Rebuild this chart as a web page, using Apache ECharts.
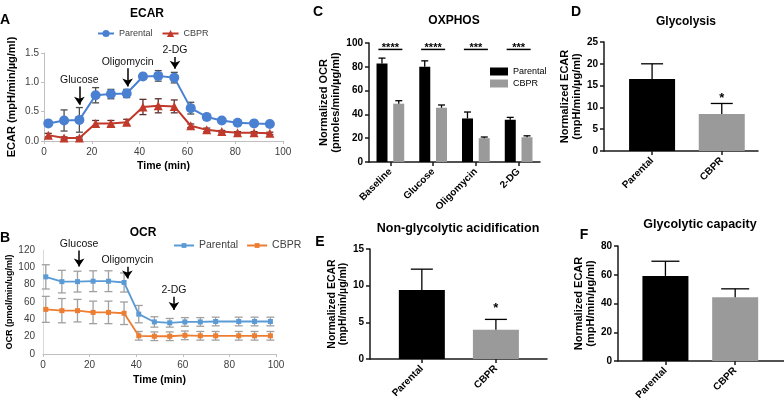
<!DOCTYPE html>
<html>
<head>
<meta charset="utf-8">
<script src="https://cdn.jsdelivr.net/npm/echarts@6/dist/echarts.min.js"></script>
<style>
html,body{margin:0;padding:0;background:#fff;}
#main{width:784px;height:405px;}
</style>
</head>
<body>
<div id="main"></div>
<script>
var FONT = '"Liberation Sans", Arial, sans-serif';

// A - ECAR time course
var timeA = [1.8, 8.4, 14.8, 21.6, 28, 34.6, 41.4, 47.8, 54.5, 61.4, 68.1, 74.4, 81, 87.9, 94.5];
var ecarPar = [0.30, 0.35, 0.36, 0.78, 0.80, 0.81, 1.10, 1.11, 1.08, 0.56, 0.41, 0.35, 0.31, 0.30, 0.29];
var ecarParErr = [0.03, 0.18, 0.21, 0.13, 0.08, 0.07, 0.05, 0.09, 0.09, 0.10, 0.05, 0.03, 0.02, 0.02, 0.02];
var ecarCb = [0.10, 0.05, 0.05, 0.30, 0.30, 0.32, 0.58, 0.60, 0.59, 0.26, 0.19, 0.16, 0.14, 0.14, 0.13];
var ecarCbErr = [0.03, 0.02, 0.02, 0.05, 0.05, 0.05, 0.13, 0.12, 0.11, 0.03, 0.03, 0.02, 0.02, 0.02, 0.02];

// B - OCR time course
var timeB = [1.2, 8.1, 14.8, 21.5, 28.1, 34.8, 41.1, 47.8, 54.4, 60.9, 67.5, 74.1, 84, 90.8, 97.6];
var ocrPar = [89, 83.5, 83.5, 84, 84, 82.5, 46, 37, 36, 37, 37, 37.5, 37.5, 37.5, 37.5];
var ocrParErr = [14, 13, 12, 12, 12, 11, 10, 6, 5, 5, 5, 5, 5, 5, 5];
var ocrCb = [51.5, 50, 50, 48, 48, 47, 21, 20.5, 20.5, 21.5, 21, 21, 21, 21, 21];
var ocrCbErr = [15, 14, 13, 13, 13, 13, 5, 5, 5, 5, 5, 5, 5, 5, 5];

// injection arrows (time, arrow from, arrow to)
var annoNames = ['Glucose', 'Oligomycin', '2-DG'];
var annoTimeA = [14.8, 35, 54.8];
var annoFromA = [0.93, 1.24, 1.43];
var annoToA = [0.62, 0.93, 1.23];
var annoTimeB = [15.5, 36.2, 56.2];
var annoFromB = [119.5, 100.7, 66];
var annoToB = [101, 87.2, 50.7];

// C - OXPHOS
var cCats = ['Baseline', 'Glucose', 'Oligomycin', '2-DG'];
var oxPar = [82.8, 80, 36.6, 35.5];
var oxParErr = [4.5, 5, 5.4, 2];
var oxCb = [49, 45.6, 20, 20.8];
var oxCbErr = [2.5, 2.3, 1, 1.2];
var oxSig = ['****', '****', '***', '***'];
var oxSigY = 94.6;

// D/E/F - two group bars
var groups = ['Parental', 'CBPR'];
var glyVals = [16.5, 8.5];
var glyErr = [3.5, 2.4];
var glySig = ['', '*'];
var nonGlyVals = [9.4, 4.0];
var nonGlyErr = [2.85, 1.4];
var nonGlySig = ['', '*'];
var capVals = [59.2, 44.4];
var capErr = [10.2, 5.8];
var capSig = ['', ''];

var barColors = ['#000000', '#9a9a9a'];

// error bar drawer
function errBars(capW, color, upOnly, offset, sig, sigGap) {
    return function (params, api) {
        var x = api.value(0), v = api.value(1), e = api.value(2);
        var top = api.coord([x, v + e]);
        var bot = api.coord([x, upOnly ? v : v - e]);
        var px = top[0] + offset;
        var st = { stroke: color, lineWidth: 1.3 };
        var kids = [
            { type: 'line', shape: { x1: px, y1: top[1], x2: px, y2: bot[1] }, style: st },
            { type: 'line', shape: { x1: px - capW / 2, y1: top[1], x2: px + capW / 2, y2: top[1] }, style: st }
        ];
        if (!upOnly) {
            kids.push({ type: 'line', shape: { x1: px - capW / 2, y1: bot[1], x2: px + capW / 2, y2: bot[1] }, style: st });
        }
        if (sig && sig[params.dataIndex]) {
            kids.push({ type: 'text', x: px, y: top[1] - sigGap, style: {
                text: sig[params.dataIndex], fontSize: 13, fontWeight: 'bold', fontFamily: FONT,
                fill: '#000', align: 'center', verticalAlign: 'middle' } });
        }
        return { type: 'group', children: kids };
    };
}

function pairs(xs, ys, es) {
    return xs.map(function (x, i) { return es ? [x, ys[i], es[i]] : [x, ys[i]]; });
}

function arrows(times, from, to) {
    return {
        silent: true,
        symbol: ['none', 'arrow'],
        symbolSize: 8,
        emphasis: { disabled: true },
        lineStyle: { color: '#000', width: 1.5, type: 'solid' },
        label: { show: true, position: 'start', distance: 1, formatter: '{b}', fontSize: 10.5, color: '#111', fontFamily: FONT },
        data: annoNames.map(function (n, i) {
            return [{ name: n, coord: [times[i], from[i]] }, { coord: [times[i], to[i]] }];
        })
    };
}

// excel style axes (A, B)
function xlX(grid, gap) {
    return {
        gridIndex: grid, type: 'value', min: 0, max: 100, interval: 20,
        axisLine: { lineStyle: { color: '#bfbfbf' } },
        axisTick: { show: true, length: 3, lineStyle: { color: '#bfbfbf' } },
        axisLabel: { color: '#404040', fontSize: 10, margin: 6 },
        splitLine: { show: false },
        name: 'Time (min)', nameLocation: 'middle', nameGap: gap,
        nameTextStyle: { fontWeight: 'bold', fontSize: 10.5, color: '#000' }
    };
}
function xlY(grid, max, interval, name, gap, nameSize, fmt, tick) {
    return {
        gridIndex: grid, type: 'value', min: 0, max: max, interval: interval,
        axisLine: { show: true, lineStyle: { color: tick ? '#bfbfbf' : '#d9d9d9' } },
        axisTick: { show: tick, length: 3, lineStyle: { color: '#bfbfbf' } },
        axisLabel: { color: '#404040', fontSize: 10, margin: tick ? 5 : 8, formatter: fmt },
        splitLine: { show: false },
        name: name, nameLocation: 'middle', nameGap: gap,
        nameTextStyle: { fontWeight: 'bold', fontSize: nameSize, color: '#000' }
    };
}

// prism style axes (C-F)
var prismLine = { show: true, onZero: false, lineStyle: { color: '#1a1a1a', width: 1.5 } };
var prismTick = { show: true, length: 4, lineStyle: { color: '#1a1a1a', width: 1.5 } };
function prismY(grid, max, interval, name, gap, size) {
    return {
        gridIndex: grid, type: 'value', min: 0, max: max, interval: interval,
        axisLine: prismLine, axisTick: prismTick,
        axisLabel: { color: '#000', fontSize: 10, fontWeight: 'bold', margin: 6 },
        splitLine: { show: false },
        name: name, nameLocation: 'middle', nameGap: gap,
        nameTextStyle: { fontWeight: 'bold', fontSize: size, lineHeight: size + 1, color: '#000' }
    };
}
function prismX2(grid, min, max) {
    return {
        gridIndex: grid, type: 'value', min: min, max: max,
        axisLine: prismLine,
        axisTick: { show: true, length: 4, lineStyle: { color: '#1a1a1a', width: 1.5 }, customValues: [0, 1] },
        axisLabel: { customValues: [0, 1], rotate: 45, margin: 8, color: '#000', fontSize: 10, fontWeight: 'bold',
            formatter: function (v) { return groups[Math.round(v)]; } },
        splitLine: { show: false }
    };
}

function twoBars(grid, vals) {
    return {
        type: 'bar', xAxisIndex: grid, yAxisIndex: grid, barWidth: 46, z: 2,
        data: vals.map(function (v, i) { return { value: [i, v], itemStyle: { color: barColors[i] } }; })
    };
}
function twoErr(grid, vals, errs, capW, sig, gap) {
    return {
        type: 'custom', xAxisIndex: grid, yAxisIndex: grid, z: 3, silent: true,
        data: pairs([0, 1], vals, errs),
        renderItem: errBars(capW, '#000', true, 0, sig, gap)
    };
}

function txt(t, x, y, size) {
    return { type: 'text', x: x, y: y, silent: true,
        style: { text: t, fontSize: size, fontWeight: 'bold', fontFamily: FONT, fill: '#000', align: 'center', verticalAlign: 'middle' } };
}

var legendName = function (n) { return n.split('_')[1]; };

var chart = echarts.init(document.getElementById('main'));

var option = {
    animation: false,
    backgroundColor: '#fff',
    textStyle: { fontFamily: FONT },
    graphic: [
        txt('A', 5, 20, 14), txt('B', 5, 238, 14), txt('C', 318, 12, 14),
        txt('D', 576, 12, 14), txt('E', 320, 242, 14), txt('F', 584, 235, 14),
        txt('ECAR', 147, 14, 12), txt('OCR', 143, 233, 12), txt('OXPHOS', 454, 21, 12),
        txt('Glycolysis', 686, 22, 12), txt('Non-glycolytic acidification', 458, 229, 12.5),
        txt('Glycolytic capacity', 700, 225, 12.5)
    ],
    legend: [
        { data: ['A_Parental', 'A_CBPR'], left: 97, top: 29, padding: 0, itemWidth: 16, itemHeight: 9, itemGap: 9,
          formatter: legendName, textStyle: { fontSize: 9, color: '#404040' } },
        { data: ['B_Parental', 'B_CBPR'], left: 173, top: 240, padding: 0, itemWidth: 20, itemHeight: 6, itemGap: 8,
          formatter: legendName, textStyle: { fontSize: 10.5, color: '#404040' } },
        { data: ['C_Parental', 'C_CBPR'], left: 490, top: 67, padding: 0, orient: 'vertical', icon: 'rect',
          itemWidth: 18, itemHeight: 8, itemGap: 3, formatter: legendName, textStyle: { fontSize: 9, color: '#000' } }
    ],
    grid: [
        { left: 44, top: 53, width: 239, height: 88 },
        { left: 43, top: 250, width: 233, height: 104 },
        { left: 369, top: 43, width: 171, height: 119 },
        { left: 604, top: 42, width: 154, height: 109 },
        { left: 370, top: 249, width: 177, height: 110 },
        { left: 618, top: 246, width: 166, height: 115 }
    ],
    xAxis: [
        xlX(0, 20),
        xlX(1, 21),
        {
            gridIndex: 2, type: 'category', data: cCats,
            axisLine: prismLine,
            axisTick: { show: true, alignWithLabel: true, length: 4, lineStyle: { color: '#1a1a1a', width: 1.5 } },
            axisLabel: { rotate: 45, margin: 8, color: '#000', fontSize: 10, fontWeight: 'bold', interval: 0 }
        },
        prismX2(3, -0.69, 1.52),
        prismX2(4, -0.7, 1.69),
        prismX2(5, -0.68, 1.7)
    ],
    yAxis: [
        xlY(0, 1.5, 0.5, 'ECAR (mpH/min/\u00b5g/ml)', 27, 11, function (v) { return v.toFixed(1); }, true),
        xlY(1, 120, 20, 'OCR (pmol/min/ug/ml)', 28, 9, null, false),
        prismY(2, 100, 20, 'Normalized OCR\n(pmoles/min/\u00b5g/ml)', 20, 11),
        prismY(3, 25, 5, 'Normalized ECAR\n(mpH/min/\u00b5g/ml)', 20, 11),
        prismY(4, 15, 5, 'Normalized ECAR\n(mpH/min/\u00b5g/ml)', 18, 10.5),
        prismY(5, 80, 20, 'Normalized ECAR\n(mpH/min/\u00b5g/ml)', 18, 11)
    ],
    series: [
        // A
        { type: 'custom', xAxisIndex: 0, yAxisIndex: 0, z: 1, silent: true,
          data: pairs(timeA, ecarPar, ecarParErr), renderItem: errBars(7, '#4d4d4d', false, 0) },
        { type: 'custom', xAxisIndex: 0, yAxisIndex: 0, z: 1, silent: true,
          data: pairs(timeA, ecarCb, ecarCbErr), renderItem: errBars(7, '#5a3030', false, 0) },
        { type: 'line', name: 'A_Parental', xAxisIndex: 0, yAxisIndex: 0, z: 3, clip: false,
          data: pairs(timeA, ecarPar), symbol: 'circle', symbolSize: 10,
          itemStyle: { color: '#4a80d2' }, lineStyle: { width: 2, color: '#4a80d2' },
          markLine: arrows(annoTimeA, annoFromA, annoToA) },
        { type: 'line', name: 'A_CBPR', xAxisIndex: 0, yAxisIndex: 0, z: 3,
          data: pairs(timeA, ecarCb), symbol: 'triangle', symbolSize: 9,
          itemStyle: { color: '#c0392b' }, lineStyle: { width: 2, color: '#c0392b' } },
        // B
        { type: 'custom', xAxisIndex: 1, yAxisIndex: 1, z: 1, silent: true,
          data: pairs(timeB, ocrPar, ocrParErr), renderItem: errBars(8, '#a0a0a0', false, 0) },
        { type: 'custom', xAxisIndex: 1, yAxisIndex: 1, z: 1, silent: true,
          data: pairs(timeB, ocrCb, ocrCbErr), renderItem: errBars(8, '#a0a0a0', false, 0) },
        { type: 'line', name: 'B_Parental', xAxisIndex: 1, yAxisIndex: 1, z: 3, clip: false,
          data: pairs(timeB, ocrPar), symbol: 'rect', symbolSize: 5,
          itemStyle: { color: '#5b9bd5' }, lineStyle: { width: 1.8, color: '#5b9bd5' },
          markLine: arrows(annoTimeB, annoFromB, annoToB) },
        { type: 'line', name: 'B_CBPR', xAxisIndex: 1, yAxisIndex: 1, z: 3,
          data: pairs(timeB, ocrCb), symbol: 'rect', symbolSize: 5,
          itemStyle: { color: '#ed7d31' }, lineStyle: { width: 1.8, color: '#ed7d31' } },
        // C
        { type: 'bar', name: 'C_Parental', xAxisIndex: 2, yAxisIndex: 2, data: oxPar,
          barWidth: 11, barGap: '52%', itemStyle: { color: barColors[0] } },
        { type: 'bar', name: 'C_CBPR', xAxisIndex: 2, yAxisIndex: 2, data: oxCb,
          barWidth: 11, barGap: '52%', itemStyle: { color: barColors[1] } },
        { type: 'custom', xAxisIndex: 2, yAxisIndex: 2, z: 3, silent: true,
          data: pairs([0, 1, 2, 3], oxPar, oxParErr), renderItem: errBars(7, '#000', true, -8.4) },
        { type: 'custom', xAxisIndex: 2, yAxisIndex: 2, z: 3, silent: true,
          data: pairs([0, 1, 2, 3], oxCb, oxCbErr), renderItem: errBars(7, '#000', true, 8.4) },
        { type: 'custom', xAxisIndex: 2, yAxisIndex: 2, z: 3, silent: true,
          data: cCats.map(function (c, i) { return [i, oxSigY]; }),
          renderItem: function (params, api) {
              var p = api.coord([api.value(0), api.value(1)]);
              return { type: 'group', children: [
                  { type: 'line', shape: { x1: p[0] - 12, y1: p[1], x2: p[0] + 12, y2: p[1] },
                    style: { stroke: '#000', lineWidth: 1.5 } },
                  { type: 'text', x: p[0], y: p[1] - 1, style: { text: oxSig[params.dataIndex], fontSize: 11,
                    fontWeight: 'bold', fontFamily: FONT, fill: '#000', align: 'center', verticalAlign: 'middle' } }
              ] };
          } },
        // D
        twoBars(3, glyVals),
        twoErr(3, glyVals, glyErr, 22, glySig, 5),
        // E
        twoBars(4, nonGlyVals),
        twoErr(4, nonGlyVals, nonGlyErr, 22, nonGlySig, 11),
        // F
        twoBars(5, capVals),
        twoErr(5, capVals, capErr, 28, capSig, 5)
    ]
};

chart.setOption(option);
</script>
</body>
</html>
